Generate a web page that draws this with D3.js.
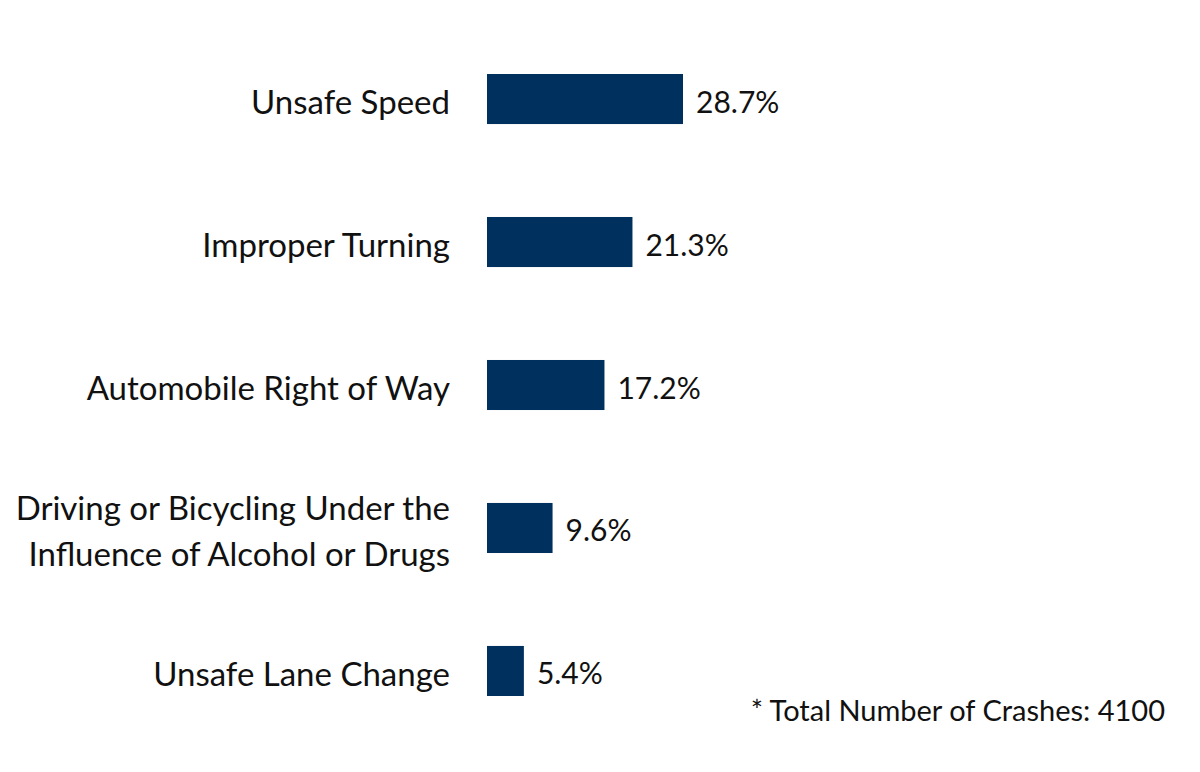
<!DOCTYPE html>
<html><head><meta charset="utf-8">
<script src="https://cdn.jsdelivr.net/npm/d3@7"></script>
<style>body{margin:0;background:#fff}</style>
</head><body>
<svg id="c" width="1200" height="772"></svg>
<script>
const categories = [["Unsafe Speed"],["Improper Turning"],["Automobile Right of Way"],["Driving or Bicycling Under the","Influence of Alcohol or Drugs"],["Unsafe Lane Change"]];
const values = [28.7,21.3,17.2,9.6,5.4];
const footnote = "* Total Number of Crashes: 4100";
const keys = categories.map(d=>d.join(" "));
const svg = d3.select("#c");
const font = "Lato, 'Open Sans', sans-serif";
const color = "#00305e";
const y = d3.scaleBand().domain(keys).range([74,696]).paddingInner(0.65).paddingOuter(0);
const x = d3.scaleLinear().domain([0,28.7]).range([487,683]);
const g = svg.append("g");
keys.forEach((k,i)=>{
  const yc = y(k)+y.bandwidth()/2;
  g.append("rect").attr("x",x(0)).attr("y",y(k)).attr("width",x(values[i])-x(0)).attr("height",y.bandwidth()).attr("fill",color);
  g.append("text").attr("x",x(values[i])+13).attr("y",yc+3).attr("dy","0.35em")
    .attr("font-family",font).attr("font-size",30).attr("fill","#111").text(values[i].toFixed(1)+"%");
  const lines = categories[i];
  lines.forEach((l,j)=>{
    g.append("text").attr("x",450).attr("y",yc+(j-(lines.length-1)/2)*46+3).attr("dy","0.35em")
      .attr("text-anchor","end").attr("font-family",font).attr("font-size",33).attr("fill","#111").text(l);
  });
});
svg.append("text").attr("x",1165).attr("y",711).attr("dy","0.35em").attr("text-anchor","end")
  .attr("font-family",font).attr("font-size",29).attr("fill","#111").text(footnote);
</script>
</body></html>
